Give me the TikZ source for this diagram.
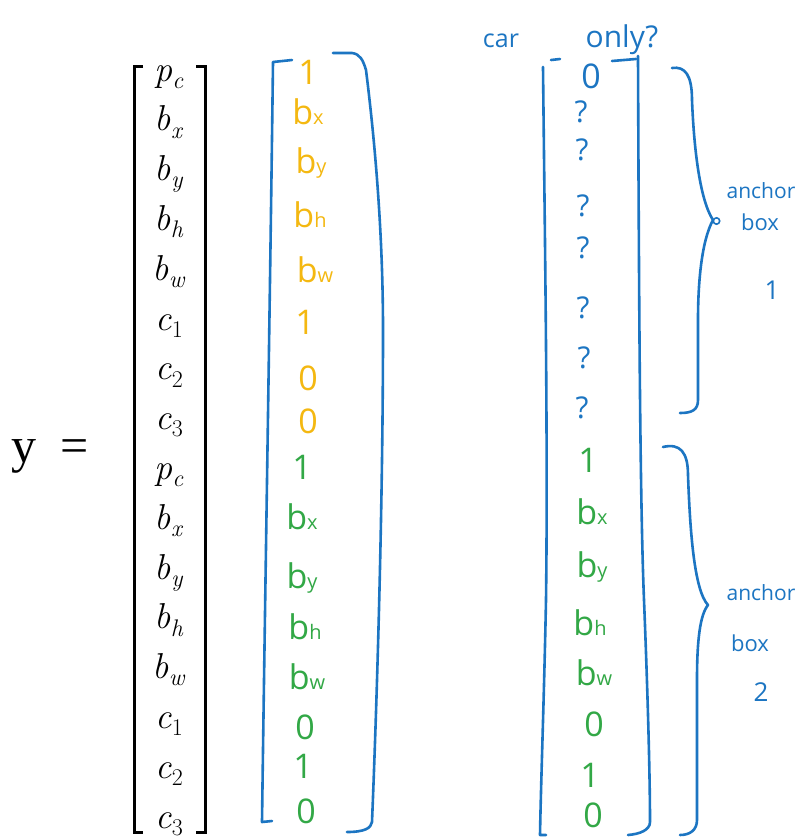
\documentclass[tikz,border=0pt]{standalone}
\usepackage{fontspec}
\newfontfamily\hand{Open Sans}
\newfontfamily\tser{Liberation Serif}
\definecolor{penblue}{RGB}{28,117,194}
\definecolor{penyellow}{RGB}{244,184,17}
\definecolor{pengreen}{RGB}{50,168,70}
\newcommand\hbs[1]{b{\fontsize{20}{20}\selectfont #1}}
\newcommand\mv[2]{\textit{#1}\raisebox{-0.2em}{\fontsize{24}{24}\selectfont #2}}
\tikzset{
  mathe/.style={anchor=base, inner sep=0pt, font=\fontsize{36}{36}\selectfont},
  hw/.style={inner sep=0pt, font=\hand\fontsize{34}{34}\selectfont},
  hy/.style={hw, text=penyellow},
  hg/.style={hw, text=pengreen},
  hb/.style={hw, text=penblue},
  hq/.style={inner sep=0pt, text=penblue, font=\hand\fontsize{30}{30}\selectfont},
  lab/.style={inner sep=0pt, text=penblue, font=\hand\fontsize{21}{21}\selectfont},
  pen/.style={draw=penblue, line width=2.6pt, line cap=round, line join=round},
  blk/.style={draw=black, line width=3pt}
}
\begin{document}
\begin{tikzpicture}[x=1pt,y=-1pt]
\useasboundingbox (0,0) rectangle (799,839);
\fill[white] (0,0) rectangle (799,839);

% y =
\node[anchor=base west, inner sep=0pt, font=\tser\fontsize{50}{50}\selectfont] (ylab) at (11,462) {y};
\node[anchor=base west, inner sep=0pt, font=\tser\fontsize{50}{50}\selectfont] (eq) at (60,462) {=};

% black matrix
\foreach \a/\s [count=\i] in {p/\textit{c},b/\textit{x},b/\textit{y},b/\textit{h},b/\textit{w},c/1,c/2,c/3,p/\textit{c},b/\textit{x},b/\textit{y},b/\textit{h},b/\textit{w},c/1,c/2,c/3}
  \node[mathe] (m\i) at (169,{81+49.8*(\i-1)}) {\mv{\a}{\s}};
\draw[blk] (143,66) -- (134,66) -- (134,832) -- (143,832);
\draw[blk] (196,66) -- (205,66) -- (205,832) -- (196,832);

% first handwritten column
\node[hy] (y1) at (308,72) {1};
\node[hy] (y2) at (308,112) {\hbs{x}};
\node[hy] (y3) at (311,163) {\hbs{y}};
\node[hy] (y4) at (310,215) {\hbs{h}};
\node[hy] (y5) at (315,270) {\hbs{w}};
\node[hy] (y6) at (305,322) {1};
\node[hy] (y7) at (308,378) {0};
\node[hy] (y8) at (308,421) {0};
\node[hg] (g1) at (302,467) {1};
\node[hg] (g2) at (302,517) {\hbs{x}};
\node[hg] (g3) at (302,578) {\hbs{y}};
\node[hg] (g4) at (305,627) {\hbs{h}};
\node[hg] (g5) at (307,677) {\hbs{w}};
\node[hg] (g6) at (305,727) {0};
\node[hg] (g7) at (303,766) {1};
\node[hg] (g8) at (306,811) {0};

% first blue bracket
\draw[pen] (292,60) -- (273,62) .. controls (270,300) and (265,600) .. (262,822) -- (272,821);
\draw[pen] (333,53) -- (352,53) .. controls (360,54) and (363,60) .. (366,70)
  .. controls (376,150) and (383,240) .. (383,330)
  .. controls (383,500) and (377,700) .. (372,822)
  .. controls (371,828) and (365,832) .. (347,832);

% second handwritten column
\node[font=\hand\fontsize{25}{25}\selectfont, text=penblue, inner sep=0pt] (car) at (501,41) {car};
\node[font=\hand\fontsize{30}{30}\selectfont, text=penblue, inner sep=0pt] (only) at (622,40) {only?};
\node[hb] (r0) at (591,76) {0};
\node[hq] (q1) at (581,112) {?};
\node[hq] (q2) at (582,150) {?};
\node[hq] (q3) at (583,206) {?};
\node[hq] (q4) at (583,248) {?};
\node[hq] (q5) at (583,308) {?};
\node[hq] (q6) at (584,358) {?};
\node[hq] (q7) at (582,408) {?};
\node[hg] (s1) at (588,460) {1};
\node[hg] (s2) at (592,512) {\hbs{x}};
\node[hg] (s3) at (592,567) {\hbs{y}};
\node[hg] (s4) at (590,623) {\hbs{h}};
\node[hg] (s5) at (594,673) {\hbs{w}};
\node[hg] (s6) at (594,724) {0};
\node[hg] (s7) at (590,775) {1};
\node[hg] (s8) at (593,815) {0};

% second blue bracket
\draw[pen] (551,60) -- (560,59);
\draw[pen] (543,67) .. controls (545,250) and (548,450) .. (546,600)
  .. controls (544,700) and (541,780) .. (540,835) -- (546,835);
\draw[pen] (612,61) -- (636,59);
\draw[pen] (638,56) .. controls (639,300) and (640,500) .. (644,600)
  .. controls (648,700) and (650,780) .. (650,822)
  .. controls (650,830) and (640,834) .. (628,835);

% braces
\draw[pen] (672,68) .. controls (685,66) and (692,75) .. (692,100)
  .. controls (694,150) and (700,200) .. (713,220)
  .. controls (702,240) and (698,280) .. (698,320) -- (698,400)
  .. controls (698,410) and (692,413) .. (680,413);
\draw[penblue, line width=1.6pt] (716.5,221) circle[radius=3.2];
\draw[pen] (663,447) .. controls (680,443) and (688,452) .. (688,475)
  .. controls (690,530) and (694,590) .. (708,605)
  .. controls (700,615) and (697,640) .. (697,680) -- (697,820)
  .. controls (697,830) and (690,835) .. (680,835);

% labels
\node[lab] (a1) at (761,191) {anchor};
\node[lab, font=\hand\fontsize{22}{22}\selectfont] (b1) at (760,222) {box};
\node[lab, font=\hand\fontsize{26}{26}\selectfont] (n1) at (772,290) {1};
\node[lab] (a2) at (761,593) {anchor};
\node[lab, font=\hand\fontsize{22}{22}\selectfont] (b2) at (750,643) {box};
\node[lab, font=\hand\fontsize{26}{26}\selectfont] (n2) at (761,692) {2};
\end{tikzpicture}
\end{document}
